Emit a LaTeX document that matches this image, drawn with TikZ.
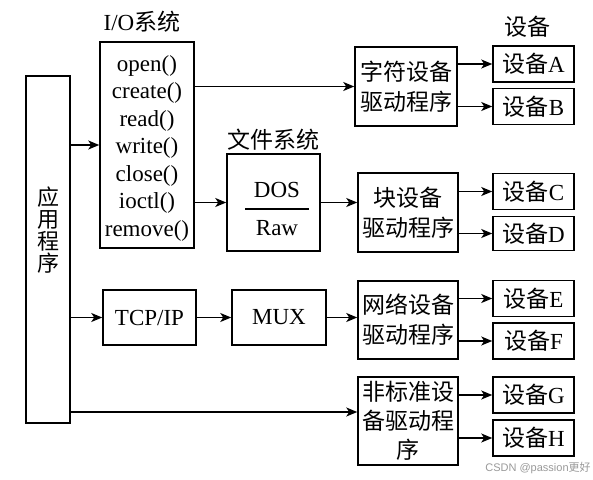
\documentclass[tikz,border=0pt]{standalone}
\usepackage{fontspec}
\setmainfont{Liberation Serif}
\newfontfamily\cjk{Noto Sans CJK SC}
\newfontfamily\marksans{Liberation Sans}
\usetikzlibrary{arrows.meta,positioning}

\begin{document}
\begin{tikzpicture}[x=1pt, y=-1pt,
  box/.style={
    draw, line width=1.5pt, inner sep=0pt, align=center,
    font=\fontsize{23}{27.5}\selectfont
  },
  drv/.style={box, minimum width=100pt, minimum height=79pt, font=\cjk\fontsize{23}{30}\selectfont},
  dev/.style={box, minimum width=81pt, minimum height=36pt},
  title/.style={font=\fontsize{23}{27}\selectfont},
  arrow/.style={-{Stealth[length=11pt,width=9pt,inset=3pt]}, line width=1.4pt}
]
\useasboundingbox (0,0) rectangle (593,479);

% left: application and I/O system
\node[box, minimum width=44pt, minimum height=347pt] (app) at (48,249.5) {};
\node[font=\cjk\fontsize{22}{22}\selectfont, align=center] (apptxt) at (48,230) {应\\用\\程\\序};
\node[box, minimum width=94pt, minimum height=206pt] (io) at (147,145) {};
\node[font=\fontsize{23}{27.5}\selectfont, align=center] (iotxt) at (147,148)
  {open()\\create()\\read()\\write()\\close()\\ioctl()\\remove()};
\node[title] (iotitle) at (142,22) {I/O{\cjk 系统}};

% file system
\node[box, minimum width=93pt, minimum height=97pt] (fs) at (273.5,202.5) {};
\node[title] (fstitle) at (273,140) {\cjk 文件系统};
\node[title] (dos) at (277,190) {DOS};
\node[title] (raw) at (277,228) {Raw};
\draw[line width=1.5pt] (245,209) -- (309,209);

% network stack
\node[box, minimum width=93pt, minimum height=55pt] (tcp) at (149.5,317.5) {TCP/IP};
\node[box, minimum width=94pt, minimum height=55pt] (mux) at (279,317.5) {MUX};

% drivers
\node[drv, minimum width=102pt] (chr) at (406,86.5) {字符设备\\驱动程序};
\node[drv] (blk) at (408,212.5) {块设备\\驱动程序};
\node[drv, minimum height=78pt] (net) at (408,320) {网络设备\\驱动程序};
\node[drv, minimum height=88pt, font=\cjk\fontsize{23}{29}\selectfont] (nstd) at (408,421)
  {非标准设\\备驱动程\\序};

% devices
\node[title] (devtitle) at (527,27) {\cjk 设备};
\node[dev] (devA) at (533.5,64) {{\cjk 设备}A};
\node[dev] (devB) at (533.5,106.5) {{\cjk 设备}B};
\node[dev] (devC) at (533.5,191.5) {{\cjk 设备}C};
\node[dev, minimum height=34pt] (devD) at (533.5,233.5) {{\cjk 设备}D};
\node[dev] (devE) at (533.5,298.5) {{\cjk 设备}E};
\node[dev] (devF) at (533.5,341) {{\cjk 设备}F};
\node[dev] (devG) at (533.5,395) {{\cjk 设备}G};
\node[dev] (devH) at (533.5,438) {{\cjk 设备}H};

\node[font=\marksans\fontsize{11}{13}\selectfont, text=black!40] (mark) at (538,468)
  {CSDN @passion{\cjk 更好}};

% connections
\draw[arrow] (app.east |- io.west) -- (io.west);
\draw[arrow] (io.east |- chr.west) -- (chr.west);
\draw[arrow] (io.east |- fs.west) -- (fs.west);
\draw[arrow] (fs.east) -- (fs.east -| blk.west);
\draw[arrow] (app.east |- tcp.west) -- (tcp.west);
\draw[arrow] (tcp) -- (mux);
\draw[arrow] (mux.east) -- (mux.east -| net.west);
\draw[arrow] ([yshift=9pt]nstd.west -| app.east) -- ([yshift=9pt]nstd.west);

\draw[arrow] (devA.west -| chr.east) -- (devA.west);
\draw[arrow] (devB.west -| chr.east) -- (devB.west);
\draw[arrow] (devC.west -| blk.east) -- (devC.west);
\draw[arrow] (devD.west -| blk.east) -- (devD.west);
\draw[arrow] (devE.west -| net.east) -- (devE.west);
\draw[arrow] (devF.west -| net.east) -- (devF.west);
\draw[arrow] (devG.west -| nstd.east) -- (devG.west);
\draw[arrow] (devH.west -| nstd.east) -- (devH.west);
\end{tikzpicture}
\end{document}
